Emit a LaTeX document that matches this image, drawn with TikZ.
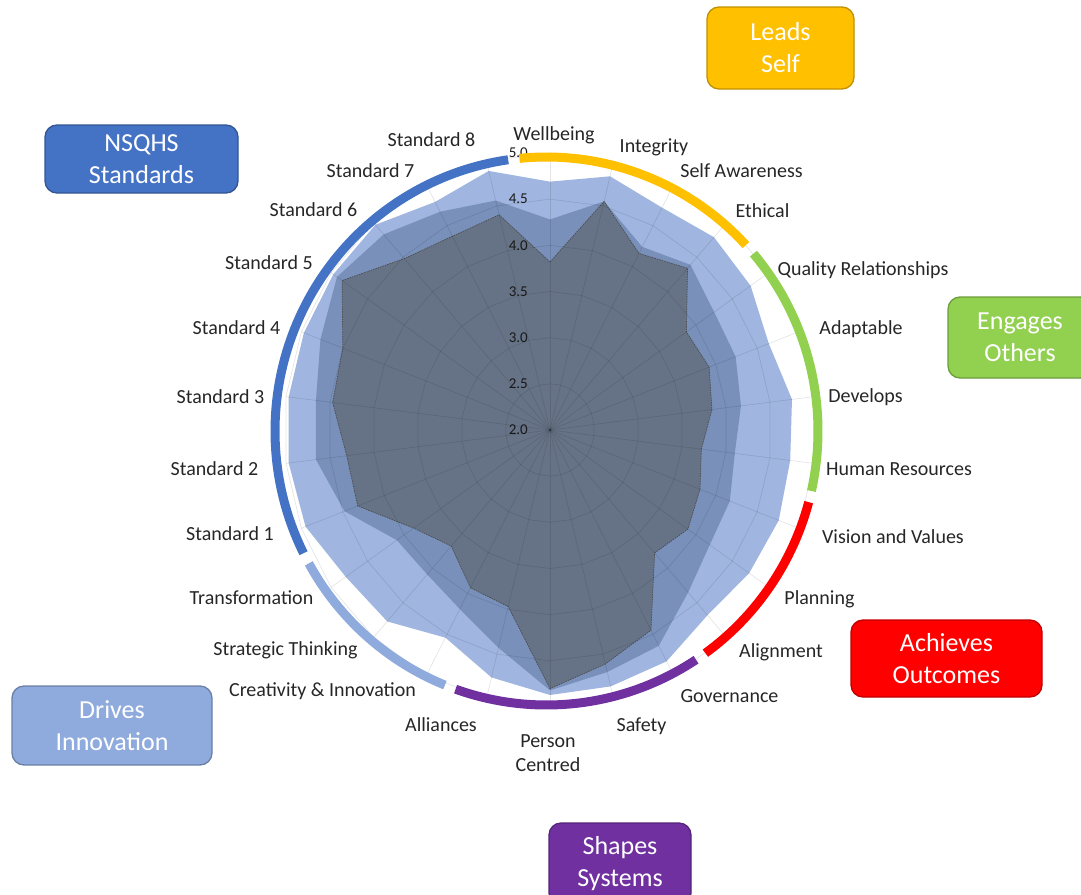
\documentclass[tikz,border=0pt]{standalone}
\usepackage{fontspec}
\setmainfont{Carlito}
\definecolor{leadsclr}{HTML}{FFC000}
\definecolor{engagesclr}{HTML}{92D050}
\definecolor{achievesclr}{HTML}{FF0000}
\definecolor{shapesclr}{HTML}{7030A0}
\definecolor{drivesclr}{HTML}{8FAADC}
\definecolor{nsqhsclr}{HTML}{4472C4}
\definecolor{lightser}{HTML}{A0B6E0}
\definecolor{midser}{HTML}{7890BA}
\definecolor{darkser}{HTML}{667386}

\begin{document}
\begin{tikzpicture}[x=1pt,y=-1pt,
  axislabel/.style={font=\fontsize{20}{24}\selectfont, text=black!85, inner sep=0pt, text height=13pt, text depth=0pt},
  twolabel/.style={font=\fontsize{20}{24}\selectfont, text=black!85, inner sep=0pt, align=center},
  ticklabel/.style={font=\fontsize{15}{17}\selectfont, text=black!90, anchor=east, inner sep=0pt},
  groupbox/.style={draw=#1!75!black, fill=#1, rounded corners=12pt, line width=1.3pt, text=white, font=\fontsize{26}{32}\selectfont, align=center},
  grouparc/.style={draw=#1, line width=9pt},
  gridline/.style={draw=black, draw opacity=0.1, line width=0.7pt},
]
\useasboundingbox (0,0) rectangle (1081,894);

% radar series
\begin{scope}[shift={(550,430)}, xscale=0.96]
\fill[lightser] (-90:{(4.69-2)*92.33}) \foreach \v [count=\k] in {4.83,4.72,4.79,4.75,4.64,4.75,4.73,4.76,4.73,4.68,4.83,4.86,4.87,4.76,4.54,4.77,4.80,4.95,4.97,4.97,4.97,4.97,4.97,4.79,4.89} {-- ({-90+\k*360/26}:{(\v-2)*92.33})} -- cycle;
\fill[midser] (-90:{(4.28-2)*92.33}) \foreach \v [count=\k] in {4.55,4.24,4.39,4.25,4.24,4.17,4.10,4.17,4.19,4.35,4.64,4.70,4.82,4.43,4.19,4.09,4.10,4.48,4.66,4.66,4.77,4.92,4.83,4.67,4.56} {-- ({-90+\k*360/26}:{(\v-2)*92.33})} -- cycle;
\filldraw[fill=darkser, draw=black!70, line width=0.7pt, dash pattern=on 1.5pt off 1pt] (-90:{(3.82-2)*92.33}) \foreach \v [count=\k] in {4.55,4.16,4.34,3.87,3.92,3.84,3.72,3.81,3.89,3.78,4.45,4.61,4.80,3.97,3.93,3.68,3.87,4.32,4.31,4.47,4.50,4.85,4.48,4.37,4.40} {-- ({-90+\k*360/26}:{(\v-2)*92.33})} -- cycle;
% grid
\foreach \k in {0,...,25} \draw[gridline] (0,0) -- ({-90+\k*360/26}:277);
\foreach \r in {46.17,92.33,138.5,184.67,230.83,277}
  \draw[gridline] (-90:\r) \foreach \k in {1,...,25} {-- ({-90+\k*360/26}:\r)} -- cycle;
\end{scope}

% value axis
\node[ticklabel] (t20) at (528,430) {2.0};
\node[ticklabel] (t25) at (528,383.8) {2.5};
\node[ticklabel] (t30) at (528,337.7) {3.0};
\node[ticklabel] (t35) at (528,291.5) {3.5};
\node[ticklabel] (t40) at (528,245.3) {4.0};
\node[ticklabel] (t45) at (528,199.2) {4.5};
\node[ticklabel] (t50) at (528,153) {5.0};

% group arcs
\begin{scope}[shift={(546.5,431)}]
\draw[grouparc=leadsclr] (-95.72:271.5 and 274) arc[start angle=-95.72, end angle=-42.74, x radius=271.5, y radius=274];
\draw[grouparc=engagesclr] (-40.34:271.5 and 274) arc[start angle=-40.34, end angle=12.65, x radius=271.5, y radius=274];
\draw[grouparc=achievesclr] (15.05:271.5 and 274) arc[start angle=15.05, end angle=54.18, x radius=271.5, y radius=274];
\draw[grouparc=shapesclr] (56.58:271.5 and 274) arc[start angle=56.58, end angle=109.57, x radius=271.5, y radius=274];
\draw[grouparc=drivesclr] (111.97:271.5 and 274) arc[start angle=111.97, end angle=151.11, x radius=271.5, y radius=274];
\draw[grouparc=nsqhsclr] (153.51:271.5 and 274) arc[start angle=153.51, end angle=261.88, x radius=271.5, y radius=274];
\end{scope}

% axis labels
\node[axislabel] (wellbeing) at (554,134) {Wellbeing};
\node[axislabel] (integrity) at (654,146) {Integrity};
\node[axislabel] (selfaware) at (741.5,171) {Self Awareness};
\node[axislabel] (ethical) at (762.5,211) {Ethical};
\node[axislabel] (qualrel) at (863,269) {Quality Relationships};
\node[axislabel] (adaptable) at (861,328) {Adaptable};
\node[axislabel] (develops) at (865.5,396) {Develops};
\node[axislabel] (humanres) at (899,469) {Human Resources};
\node[axislabel] (vision) at (893,537) {Vision and Values};
\node[axislabel] (planning) at (819.5,598) {Planning};
\node[axislabel] (alignment) at (781,651) {Alignment};
\node[axislabel] (governance) at (729.5,696) {Governance};
\node[axislabel] (safety) at (641.5,725) {Safety};
\node[twolabel] (personc) at (548,753) {Person\\Centred};
\node[axislabel] (alliances) at (441,725) {Alliances};
\node[axislabel] (creativity) at (322.5,690) {Creativity \& Innovation};
\node[axislabel] (strategic) at (285.5,649) {Strategic Thinking};
\node[axislabel] (transform) at (251.5,598) {Transformation};
\node[axislabel] (std1) at (230,534) {Standard 1};
\node[axislabel] (std2) at (214.5,469) {Standard 2};
\node[axislabel] (std3) at (220.5,397) {Standard 3};
\node[axislabel] (std4) at (236.5,328) {Standard 4};
\node[axislabel] (std5) at (269,263) {Standard 5};
\node[axislabel] (std6) at (313.5,210) {Standard 6};
\node[axislabel] (std7) at (370.5,171) {Standard 7};
\node[axislabel] (std8) at (431.5,140) {Standard 8};

% group boxes
\node[groupbox=leadsclr, minimum width=147pt, minimum height=82pt] (leadsself) at (780.5,48) {Leads\\Self};
\node[groupbox=nsqhsclr, minimum width=193pt, minimum height=68pt] (nsqhs) at (141.5,159) {NSQHS\\Standards};
\node[groupbox=engagesclr, minimum width=144pt, minimum height=81pt] (engages) at (1020,337.5) {Engages\\Others};
\node[groupbox=achievesclr, minimum width=191pt, minimum height=77pt] (achieves) at (946.5,658.5) {Achieves\\Outcomes};
\node[groupbox=drivesclr, minimum width=200pt, minimum height=79pt] (drives) at (112,725.5) {Drives\\Innovation};
\node[groupbox=shapesclr, minimum width=142pt, minimum height=82pt] (shapes) at (620,864) {Shapes\\Systems};
\end{tikzpicture}
\end{document}
